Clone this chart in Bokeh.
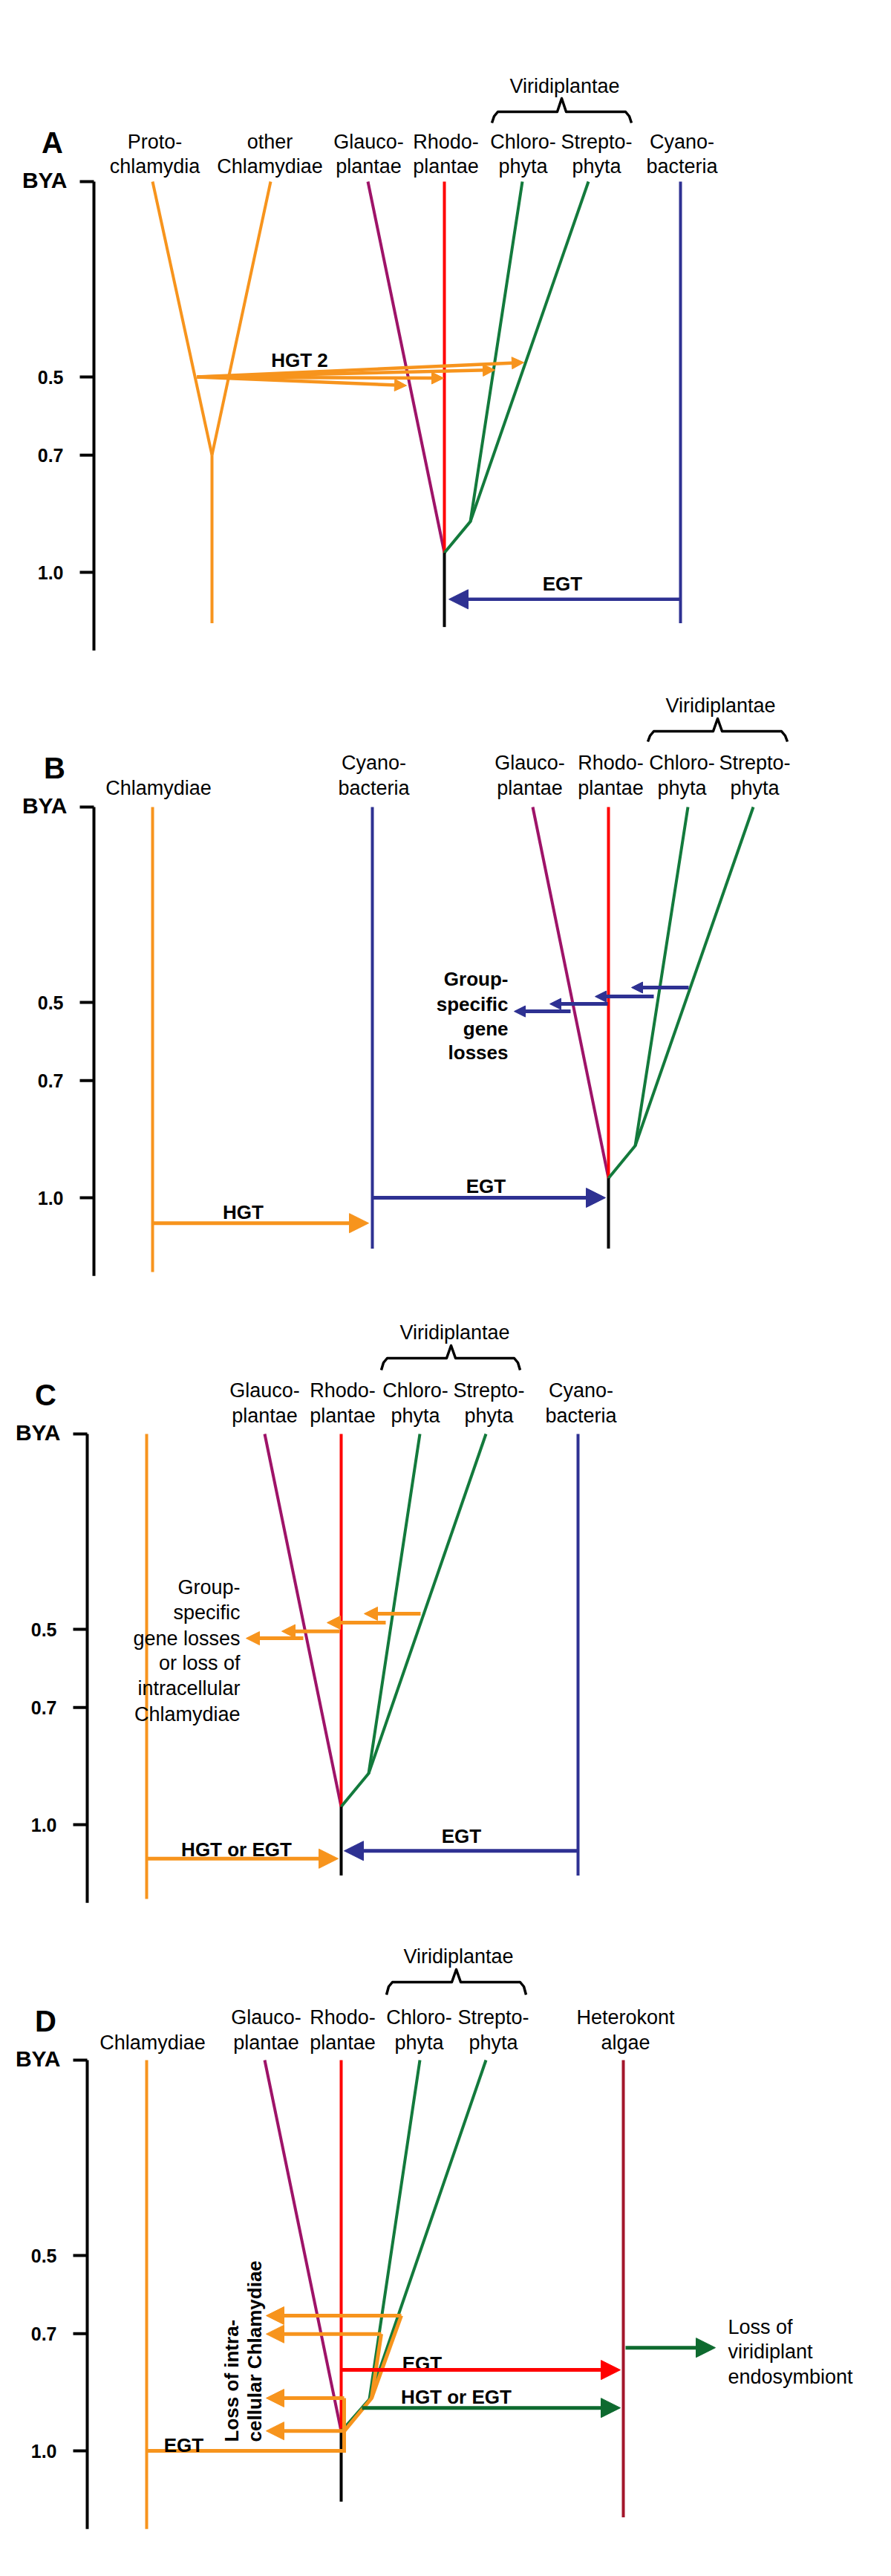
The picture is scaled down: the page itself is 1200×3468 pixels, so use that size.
import numpy as np
from bokeh.plotting import figure
from bokeh.layouts import column
from bokeh.models import Range1d, Arrow, NormalHead, ColumnDataSource
from bokeh.core.properties import value
from bokeh.embed import file_html
from bokeh.resources import INLINE

# ---------------- shared data ----------------
tick_bya = [0.5, 0.7, 1.0]
tick_labels = ["0.5", "0.7", "1.0"]
axis_max_bya = 1.2

ORANGE = "#F7941D"
PURPLE = "#9E1368"
RED = "#FF0000"
GREEN = "#137A3C"
DGREEN = "#0E6A2F"
NAVY = "#2E3192"
DARKRED = "#A3162B"

# ---------------- panel A data ----------------
A_taxa_line1 = ["Proto-", "other", "Glauco-", "Rhodo-", "Chloro-", "Strepto-", "Cyano-"]
A_taxa_line2 = ["chlamydia", "Chlamydiae", "plantae", "plantae", "phyta", "phyta", "bacteria"]
A_taxa_x = [208, 363, 496, 600, 704, 803, 918]
A_paths_x = [[205, 285], [364, 285], [285, 285], [495, 598], [598, 598],
             [598, 633, 703], [633, 792], [598, 598], [916, 916]]
A_paths_bya = [[0, 0.70], [0, 0.70], [0.70, 1.13], [0, 0.95], [0, 0.95],
               [0.95, 0.87, 0], [0.87, 0], [0.95, 1.14], [0, 1.13]]
A_paths_color = [ORANGE, ORANGE, ORANGE, PURPLE, RED, GREEN, GREEN, "black", NAVY]
A_hgt2_x0 = [265, 265, 265, 265]
A_hgt2_bya0 = [0.5, 0.5, 0.5, 0.5]
A_hgt2_x1 = [547, 597, 666, 705]
A_hgt2_bya1 = [0.522, 0.503, 0.482, 0.463]
A_egt = dict(x0=[916], y0=[1.069], x1=[604], y1=[1.069])
A_notes = ["HGT 2", "EGT"]
A_notes_x = [403, 757]
A_notes_bya = [0.457, 1.03]

# ---------------- panel B data ----------------
B_taxa_line1 = ["", "Cyano-", "Glauco-", "Rhodo-", "Chloro-", "Strepto-"]
B_taxa_line2 = ["Chlamydiae", "bacteria", "plantae", "plantae", "phyta", "phyta"]
B_taxa_x = [213, 503, 713, 822, 918, 1016]
B_paths_x = [[205, 205], [501, 501], [717, 819], [819, 819],
             [819, 855, 926], [855, 1014], [819, 819]]
B_paths_bya = [[0, 1.19], [0, 1.13], [0, 0.95], [0, 0.95],
               [0.95, 0.867, 0], [0.867, 0], [0.95, 1.13]]
B_paths_color = [ORANGE, NAVY, PURPLE, RED, GREEN, GREEN, "black"]
B_hgt = dict(x0=[205], y0=[1.065], x1=[496], y1=[1.065])
B_egt = dict(x0=[501], y0=[1.0], x1=[815], y1=[1.0])
B_loss = dict(x0=[927, 880, 818, 768], y0=[0.462, 0.485, 0.504, 0.523],
              x1=[850, 801, 740, 692], y1=[0.462, 0.485, 0.504, 0.523])
B_notes = ["HGT", "EGT"]
B_notes_x = [327, 654]
B_notes_bya = [1.038, 0.971]
B_loss_text = ["Group-", "specific", "gene", "losses"]
B_loss_text_bya = [0.441, 0.504, 0.567, 0.629]

# ---------------- panel C data ----------------
C_taxa_line1 = ["Glauco-", "Rhodo-", "Chloro-", "Strepto-", "Cyano-"]
C_taxa_line2 = ["plantae", "plantae", "phyta", "phyta", "bacteria"]
C_taxa_x = [356, 461, 559, 658, 782]
C_paths_x = [[197, 197], [356, 459], [459, 459], [459, 496, 565], [496, 654],
             [459, 459], [778, 778]]
C_paths_bya = [[0, 1.19], [0, 0.954], [0, 0.954], [0.954, 0.869, 0], [0.869, 0],
               [0.954, 1.13], [0, 1.13]]
C_paths_color = [ORANGE, PURPLE, RED, GREEN, GREEN, "black", NAVY]
C_hgt = dict(x0=[197], y0=[1.087], x1=[455], y1=[1.087])
C_egt = dict(x0=[778], y0=[1.067], x1=[463], y1=[1.067])
C_loss = dict(x0=[566, 519, 457, 408], y0=[0.46, 0.483, 0.505, 0.523],
              x1=[490, 440, 379, 331], y1=[0.46, 0.483, 0.505, 0.523])
C_notes = ["HGT or EGT", "EGT"]
C_notes_x = [318, 621]
C_notes_bya = [1.063, 1.03]
C_loss_text = ["Group-", "specific", "gene losses", "or loss of", "intracellular", "Chlamydiae"]
C_loss_text_bya = [0.393, 0.458, 0.523, 0.587, 0.652, 0.717]

# ---------------- panel D data ----------------
D_taxa_line1 = ["", "Glauco-", "Rhodo-", "Chloro-", "Strepto-", "Heterokont"]
D_taxa_line2 = ["Chlamydiae", "plantae", "plantae", "phyta", "phyta", "algae"]
D_taxa_x = [205, 358, 461, 564, 664, 842]
D_paths_x = [[197, 197], [356, 459], [459, 459], [459, 497, 565], [497, 654],
             [459, 459], [839, 839]]
D_paths_bya = [[0, 1.2], [0, 0.95], [0, 0.95], [0.95, 0.868, 0], [0.868, 0],
               [0.95, 1.13], [0, 1.17]]
D_paths_color = [ORANGE, PURPLE, RED, GREEN, GREEN, "black", DARKRED]
D_orange_x = [[197, 463, 463], [463, 500, 540], [500, 513]]
D_orange_bya = [[1.0, 1.0, 0.865], [0.95, 0.865, 0.654], [0.865, 0.701]]
D_loss = dict(x0=[540, 513, 463, 463], y0=[0.654, 0.701, 0.865, 0.949],
              x1=[358, 358, 358, 358], y1=[0.654, 0.701, 0.865, 0.949])
D_egt_red = dict(x0=[459], y0=[0.793], x1=[835], y1=[0.793])
D_hgt_green = dict(x0=[487], y0=[0.89], x1=[835], y1=[0.89])
D_lossviri = dict(x0=[842], y0=[0.736], x1=[963], y1=[0.736])
D_notes = ["EGT", "HGT or EGT", "EGT"]
D_notes_x = [568, 614, 247]
D_notes_bya = [0.776, 0.863, 0.985]
D_viri_text = ["Loss of", "viridiplant", "endosymbiont"]
D_viri_text_bya = [0.684, 0.747, 0.810]
D_rot_text = ["Loss of intra-", "cellular Chlamydiae"]
D_rot_x = [311, 342]
D_rot_bya = [0.977, 0.977]

# ---------------- layout constants ----------------
PX = 526.0           # pixels per BYA
FONT = value("Liberation Sans")
W = 1200
LW = 4


def txt(p, x, y, t, size="27px", bold=False, align="center", baseline="alphabetic",
        color="black", angle=0.0):
    p.text(x=x, y=y, text=t, text_font=FONT, text_font_size=size,
           text_font_style="bold" if bold else "normal", text_align=align,
           text_baseline=baseline, text_color=color, angle=angle)


def arrows(p, d, color, width, head):
    src = ColumnDataSource(d)
    p.add_layout(Arrow(source=src, x_start="x0", y_start="y0", x_end="x1", y_end="y1",
                       line_color=color, line_width=width,
                       end=NormalHead(size=head, fill_color=color, line_color=color,
                                      line_width=1)))


def base_panel(letter, height, top_off, axis_x, letter_x, l1_px, l2_px,
               taxa_x, taxa1, taxa2, paths_x, paths_bya, paths_color,
               viri_x, viri_px, brace_l, brace_r, brace_c, brace_px):
    y_top = -top_off / PX
    y_bot = (height - top_off) / PX
    p = figure(width=W, height=height, x_range=Range1d(0, W),
               y_range=Range1d(y_bot, y_top), output_backend="svg",
               toolbar_location=None, x_axis_location=None, y_axis_location=None,
               min_border=0, outline_line_color=None)
    p.xgrid.visible = False
    p.ygrid.visible = False
    # time axis
    p.line([axis_x, axis_x], [0, axis_max_bya], line_color="black", line_width=4)
    tb = [0] + tick_bya
    p.segment(x0=[axis_x - 19] * len(tb), y0=tb, x1=[axis_x] * len(tb), y1=tb,
              line_color="black", line_width=4)
    txt(p, [axis_x - 41] * len(tick_bya), tick_bya, tick_labels, size="25px", bold=True,
        align="right")
    txt(p, [axis_x - 36], [-2 / PX], ["BYA"], size="30px", bold=True, align="right")
    txt(p, [letter_x], [-53 / PX], [letter], size="40px", bold=True)
    # taxa
    txt(p, taxa_x, [l1_px / PX] * len(taxa_x), taxa1)
    txt(p, taxa_x, [l2_px / PX] * len(taxa_x), taxa2)
    # Viridiplantae brace
    txt(p, [viri_x], [viri_px / PX], ["Viridiplantae"])
    bb, bh, bp = [v / PX for v in brace_px]
    p.line([brace_l, brace_l + 3, brace_l + 8, brace_c - 6, brace_c, brace_c + 6,
            brace_r - 8, brace_r - 3, brace_r],
           [bb, bh + 6 / PX, bh, bh, bp, bh, bh, bh + 6 / PX, bb],
           line_color="black", line_width=3.5, line_join="round")
    # lineages
    p.multi_line(xs=paths_x, ys=paths_bya, line_color=paths_color, line_width=LW)
    return p


# ---------------- Panel A ----------------
pA = base_panel("A", 880, 244, 126, 70, -54, -21, A_taxa_x, A_taxa_line1, A_taxa_line2,
                A_paths_x, A_paths_bya, A_paths_color,
                760, -129, 662, 850, 756, (-79, -94, -112))
arrows(pA, dict(x0=A_hgt2_x0, y0=A_hgt2_bya0, x1=A_hgt2_x1, y1=A_hgt2_bya1), ORANGE, 4.5, 16)
arrows(pA, A_egt, NAVY, 4.5, 26)
txt(pA, A_notes_x, A_notes_bya, A_notes, size="26px", bold=True)

# ---------------- Panel B ----------------
pB = base_panel("B", 842, 206, 126, 73, -60, -26, B_taxa_x, B_taxa_line1, B_taxa_line2,
                B_paths_x, B_paths_bya, B_paths_color,
                970, -137, 872, 1060, 966, (-88, -102, -119))
arrows(pB, B_hgt, ORANGE, 5, 26)
arrows(pB, B_egt, NAVY, 5, 26)
arrows(pB, B_loss, NAVY, 5, 15)
txt(pB, B_notes_x, B_notes_bya, B_notes, size="26px", bold=True)
txt(pB, [684] * len(B_loss_text), B_loss_text_bya, B_loss_text, size="26px", bold=True,
    align="right")

# ---------------- Panel C ----------------
pC = base_panel("C", 844, 208, 117, 61, -59, -25, C_taxa_x, C_taxa_line1, C_taxa_line2,
                C_paths_x, C_paths_bya, C_paths_color,
                612, -137, 513, 700, 607, (-86, -102, -119))
arrows(pC, C_hgt, ORANGE, 5, 26)
arrows(pC, C_egt, NAVY, 5, 26)
arrows(pC, C_loss, ORANGE, 5, 18)
txt(pC, C_notes_x, C_notes_bya, C_notes, size="26px", bold=True)
txt(pC, [323] * len(C_loss_text), C_loss_text_bya, C_loss_text, align="right")

# ---------------- Panel D ----------------
pD = base_panel("D", 894, 207, 117, 61, -58, -24, D_taxa_x, D_taxa_line1, D_taxa_line2,
                D_paths_x, D_paths_bya, D_paths_color,
                617, -140, 520, 708, 614, (-88, -105, -122))
pD.multi_line(xs=D_orange_x, ys=D_orange_bya, line_color=ORANGE, line_width=5,
              line_join="miter")
arrows(pD, D_loss, ORANGE, 5, 24)
arrows(pD, D_egt_red, RED, 5, 26)
arrows(pD, D_hgt_green, DGREEN, 5, 26)
arrows(pD, D_lossviri, DGREEN, 5, 26)
txt(pD, D_notes_x, D_notes_bya, D_notes, size="26px", bold=True)
txt(pD, [980] * len(D_viri_text), D_viri_text_bya, D_viri_text, align="left")
txt(pD, D_rot_x, D_rot_bya, D_rot_text, size="26px", bold=True, align="left",
    baseline="middle", angle=np.pi / 2)

layout = column(pA, pB, pC, pD, spacing=0)
open("out.html", "w").write(file_html(layout, INLINE))
